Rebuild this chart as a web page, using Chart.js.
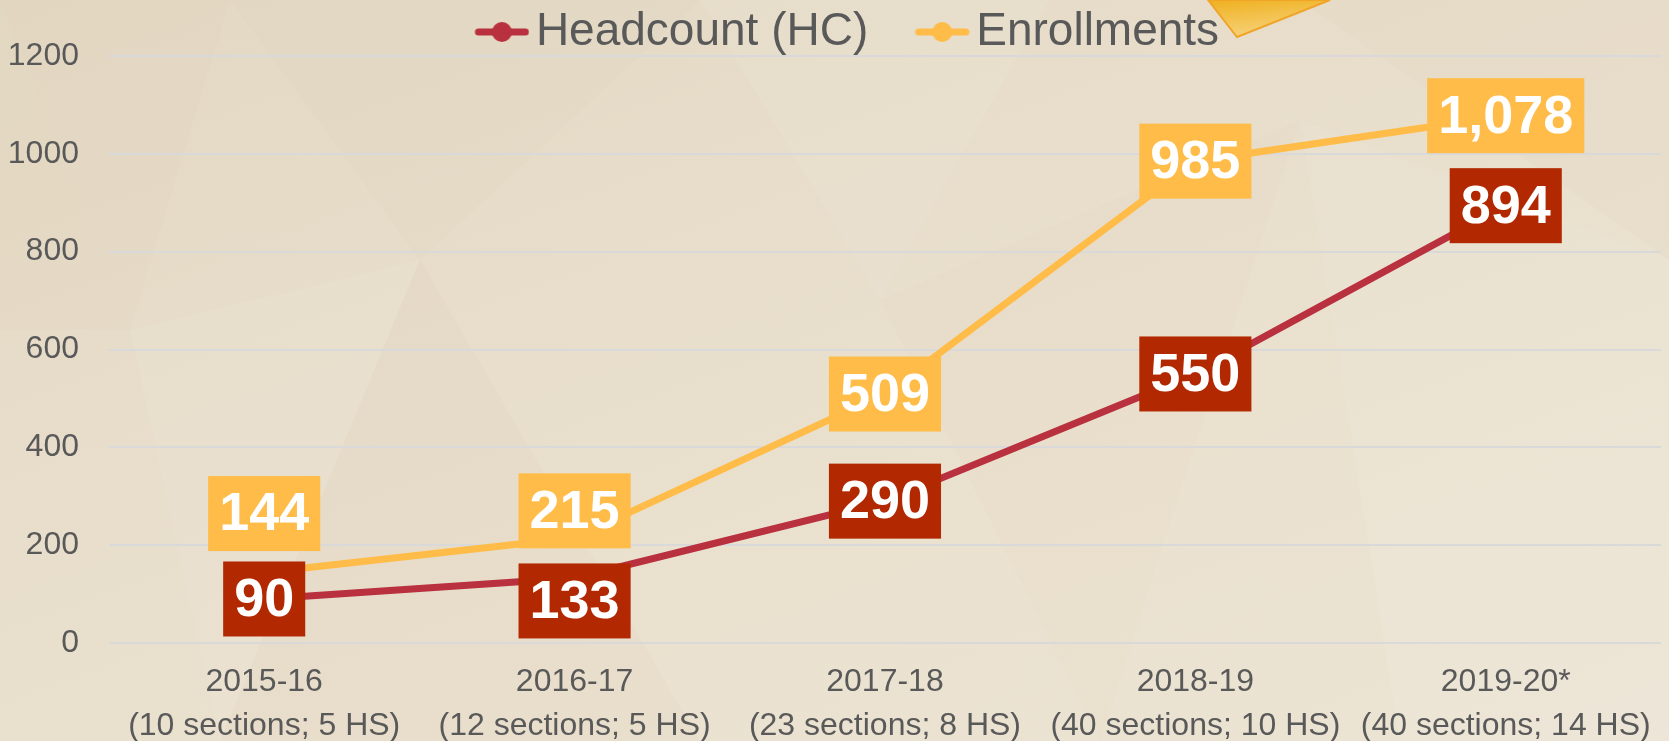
<!DOCTYPE html>
<html>
<head>
<meta charset="utf-8">
<script src="https://cdn.jsdelivr.net/npm/chart.js@4"></script>
<style>
  html, body { margin: 0; padding: 0; }
  body { width: 1669px; height: 741px; overflow: hidden; position: relative;
         background: linear-gradient(160deg, #E3D8C3 0%, #E7DDCA 35%, #EAE1CF 65%, #ECE4D4 100%); }
  #bg { position: absolute; left: 0; top: 0; }
  #wrap { position: absolute; left: 0; top: 0; width: 1669px; height: 741px; }
</style>
</head>
<body>
<svg id="bg" width="1669" height="741" viewBox="0 0 1669 741">
  <polygon points="0,0 230,0 130,330" fill="#DCCDB3" opacity="0.12"/>
  <polygon points="230,0 700,0 420,260" fill="#D8C9AE" opacity="0.09"/>
  <polygon points="130,330 420,260 220,741" fill="#FFFFFF" opacity="0.06"/>
  <polygon points="420,260 700,741 220,741" fill="#D5C5A8" opacity="0.08"/>
  <polygon points="700,0 1050,0 880,300" fill="#FFFFFF" opacity="0.06"/>
  <polygon points="880,300 1300,120 1100,741" fill="#D8C9AE" opacity="0.06"/>
  <polygon points="1300,0 1669,0 1669,260" fill="#DCCDB3" opacity="0.09"/>
  <polygon points="1300,120 1669,260 1669,741 1400,741" fill="#FFFFFF" opacity="0.07"/>
  <polygon points="0,0 0,330 130,330" fill="#D6C6AA" opacity="0.08"/>
  <defs>
    <linearGradient id="tg" x1="0" y1="0" x2="0.3" y2="1">
      <stop offset="0" stop-color="#EFB01E"/>
      <stop offset="1" stop-color="#F7D27A"/>
    </linearGradient>
  </defs>
  <polygon points="1208,0 1237,37 1330,0" fill="url(#tg)" stroke="#F0A528" stroke-width="2"/>
</svg>
<div id="wrap"><canvas id="c" width="1669" height="741"></canvas></div>
<script>
// ---- data ----
const years = ['2015-16', '2016-17', '2017-18', '2018-19', '2019-20*'];
const sections = ['(10 sections; 5 HS)', '(12 sections; 5 HS)', '(23 sections; 8 HS)', '(40 sections; 10 HS)', '(40 sections; 14 HS)'];
const headcount = [90, 133, 290, 550, 894];
const enrollments = [144, 215, 509, 985, 1078];
const yTicks = [0, 200, 400, 600, 800, 1000, 1200];

// ---- styles ----
const RED_LINE = '#B9303E';
const RED_BOX = '#B22800';
const YEL = '#FFBC48';
const TXT = '#595959';
const labelOffsets = [[0, 23, 0, 0, 0], [-59, -27, 0, 0, 0]];

function legendMarker(color) {
  const c = document.createElement('canvas');
  c.width = 109; c.height = 22;
  const g = c.getContext('2d');
  g.strokeStyle = color; g.lineWidth = 7; g.lineCap = 'round';
  g.beginPath(); g.moveTo(58, 11); g.lineTo(105, 11); g.stroke();
  g.fillStyle = color;
  g.beginPath(); g.arc(81.5, 11, 10, 0, Math.PI * 2); g.fill();
  return c;
}
const markers = [legendMarker(RED_LINE), legendMarker(YEL)];

const boxLabels = {
  id: 'boxLabels',
  afterDatasetsDraw(chart) {
    const ctx = chart.ctx;
    ctx.save();
    ctx.font = 'bold 54px "Liberation Sans", Arial, sans-serif';
    ctx.textAlign = 'center';
    ctx.textBaseline = 'middle';
    const boxColors = [RED_BOX, YEL];
    chart.data.datasets.forEach((ds, d) => {
      const meta = chart.getDatasetMeta(d);
      meta.data.forEach((pt, i) => {
        const txt = ds.data[i].toLocaleString('en-US');
        const w = ctx.measureText(txt).width + 22;
        const h = 75;
        const cx = pt.x, cy = pt.y + labelOffsets[d][i];
        ctx.fillStyle = boxColors[d];
        ctx.fillRect(cx - w / 2, cy - h / 2, w, h);
        ctx.fillStyle = '#FFFFFF';
        ctx.fillText(txt, cx, cy + 2);
      });
    });
    ctx.restore();
  }
};

const legendHeight = {
  id: 'legendHeight',
  afterInit(chart) {
    const lg = chart.legend;
    if (!lg) return;
    const orig = lg.fit;
    lg.fit = function () {
      orig.call(this);
      this.height = 56;
    };
    const origRows = lg._fitRows;
    lg._fitRows = function () {
      const r = origRows.apply(this, arguments);
      if (this.lineWidths && this.lineWidths.length) this.lineWidths[0] += 10;
      return r;
    };
  }
};

new Chart(document.getElementById('c'), {
  type: 'line',
  data: {
    labels: years.map((y, i) => [y, sections[i]]),
    datasets: [
      { label: 'Headcount (HC)', data: headcount, borderColor: RED_LINE, backgroundColor: RED_LINE,
        borderWidth: 7, pointRadius: 0, tension: 0 },
      { label: 'Enrollments', data: enrollments, borderColor: YEL, backgroundColor: YEL,
        borderWidth: 7, pointRadius: 0, tension: 0 }
    ]
  },
  options: {
    responsive: false,
    animation: false,
    layout: { padding: { left: 0, right: 3, top: 0, bottom: 0 } },
    plugins: {
      tooltip: { enabled: false },
      legend: {
        display: true,
        position: 'top',
        labels: {
          usePointStyle: true,
          pointStyleWidth: 76,
          padding: 9,
          color: TXT,
          font: { family: '"Liberation Sans", Arial, sans-serif', size: 46 },
          generateLabels(chart) {
            const items = Chart.defaults.plugins.legend.labels.generateLabels(chart);
            items.forEach((it, i) => { it.pointStyle = markers[i]; });
            return items;
          }
        }
      }
    },
    scales: {
      x: {
        offset: true,
        grid: { display: false, drawTicks: false },
        border: { display: false },
        ticks: {
          color: TXT, padding: 18, maxRotation: 0, autoSkip: false,
          font: { family: '"Liberation Sans", Arial, sans-serif', size: 32, lineHeight: 1.35 }
        },
        afterFit(s) { s.height = 98; }
      },
      y: {
        min: 0, max: 1200,
        afterBuildTicks(s) { s.ticks = yTicks.map(v => ({ value: v })); },
        grid: { color: '#D9D9D9', lineWidth: 2, drawTicks: false },
        border: { display: false },
        ticks: {
          color: TXT, padding: 30,
          font: { family: '"Liberation Sans", Arial, sans-serif', size: 32 },
          callback(v) { return String(v); }
        },
        afterFit(s) { s.width = 109; }
      }
    }
  },
  plugins: [boxLabels, legendHeight]
});
</script>
</body>
</html>
